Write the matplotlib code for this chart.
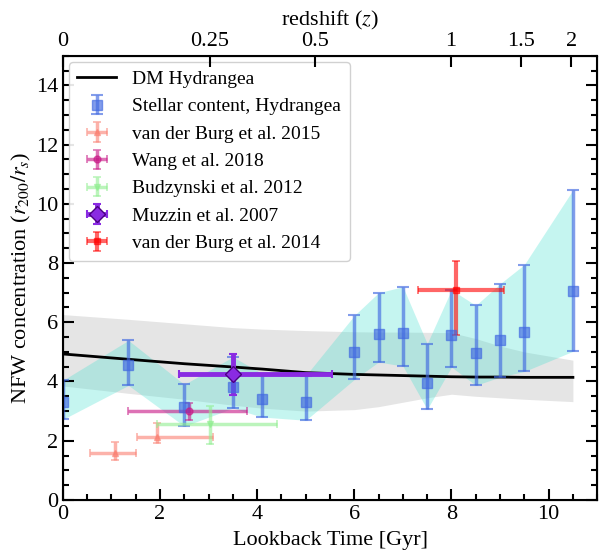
import matplotlib
matplotlib.use("Agg")
import matplotlib.pyplot as plt
import numpy as np

plt.rcParams["font.family"] = ["Liberation Serif", "DejaVu Serif"]
plt.rcParams["mathtext.fontset"] = "stix"

# DM Hydrangea median and scatter
dm_t = [0, 1.35, 2.5, 3.5, 4.1, 5.0, 6.0, 6.5, 7.0, 7.5, 8.0, 8.5, 9.0, 9.5, 10.5]
dm_c = [4.93, 4.75, 4.6, 4.49, 4.42, 4.3, 4.24, 4.22, 4.2, 4.18, 4.16, 4.15, 4.15, 4.14, 4.14]
dm_hi = [6.26, 6.1, 5.95, 5.82, 5.77, 5.72, 5.68, 5.67, 5.67, 5.66, 5.65, 5.45, 5.2, 5.0, 4.72]
dm_lo = [3.85, 3.6, 3.4, 3.2, 3.1, 3.0, 3.05, 3.15, 3.3, 3.45, 3.57, 3.5, 3.45, 3.4, 3.32]

# stellar content, Hydrangea
st_t = [0, 1.35, 2.5, 3.5, 4.1, 5.0, 6.0, 6.5, 7.0, 7.5, 8.0, 8.5, 9.0, 9.5, 10.5]
st_c = [3.3, 4.55, 3.14, 3.82, 3.4, 3.31, 5.0, 5.61, 5.65, 3.96, 5.56, 4.96, 5.39, 5.67, 7.07]
st_top = [4.04, 5.39, 3.9, 4.83, 4.27, 4.2, 6.23, 7.0, 7.2, 5.28, 7.1, 6.57, 7.3, 7.95, 10.47]
st_bot = [2.72, 3.87, 2.49, 3.1, 2.8, 2.69, 4.07, 4.66, 4.52, 3.06, 4.49, 3.87, 4.15, 4.34, 5.02]

# observations: centre, x range and y range
vdb15_t = [1.07, 1.93]
vdb15_c = [1.58, 2.12]
vdb15_tlo = [0.56, 1.52]
vdb15_thi = [1.5, 3.1]
vdb15_clo = [1.35, 1.92]
vdb15_chi = [1.96, 2.59]

wang_t, wang_c = [2.6], [3.01]
wang_tlo, wang_thi = [1.34], [3.79]
wang_clo, wang_chi = [2.69], [3.28]

budz_t, budz_c = [3.02], [2.58]
budz_tlo, budz_thi = [1.93], [4.4]
budz_clo, budz_chi = [1.89], [3.17]

muz_t, muz_c = [3.5], [4.24]
muz_tlo, muz_thi = [2.39], [5.54]
muz_clo, muz_chi = [3.54], [4.94]

vdb14_t, vdb14_c = [8.09], [7.09]
vdb14_tlo, vdb14_thi = [7.32], [9.08]
vdb14_clo, vdb14_chi = [5.58], [8.08]

z_ticks = ["0", "0.25", "0.5", "1", "1.5", "2"]
z_tpos = [0, 3.02, 5.2, 7.98, 9.44, 10.47]


def errs(v, lo, hi):
    v = np.array(v)
    return [v - np.array(lo), np.array(hi) - v]


fig = plt.figure(figsize=(5.99, 5.53), dpi=100)
ax = fig.add_axes([0.105, 0.096, 0.892, 0.803])

ax.fill_between(dm_t, dm_lo, dm_hi, color="0.75", alpha=0.4, lw=0)
ax.fill_between(st_t, st_bot, st_top, color="turquoise", alpha=0.3, lw=0)
ax.plot(dm_t, dm_c, color="k", lw=2, label="DM Hydrangea")

ax.errorbar(st_t, st_c, yerr=errs(st_c, st_bot, st_top), fmt="s", color="royalblue",
            alpha=0.65, ms=7, elinewidth=2.5, capsize=4, capthick=1.5,
            label="Stellar content, Hydrangea")
ax.errorbar(vdb15_t, vdb15_c, xerr=errs(vdb15_t, vdb15_tlo, vdb15_thi),
            yerr=errs(vdb15_c, vdb15_clo, vdb15_chi), fmt="^", color="salmon",
            alpha=0.6, ms=5, elinewidth=2.5, capsize=3, capthick=1.2,
            label="van der Burg et al. 2015")
ax.errorbar(wang_t, wang_c, xerr=errs(wang_t, wang_tlo, wang_thi),
            yerr=errs(wang_c, wang_clo, wang_chi), fmt="o", color="mediumvioletred",
            alpha=0.6, ms=5, elinewidth=2.5, capsize=3, capthick=1.2,
            label="Wang et al. 2018")
ax.errorbar(budz_t, budz_c, xerr=errs(budz_t, budz_tlo, budz_thi),
            yerr=errs(budz_c, budz_clo, budz_chi), fmt="v", color="lightgreen",
            alpha=0.6, ms=5, elinewidth=2.5, capsize=3, capthick=1.2,
            label="Budzynski et al. 2012")
ax.errorbar(muz_t, muz_c, xerr=errs(muz_t, muz_tlo, muz_thi),
            yerr=errs(muz_c, muz_clo, muz_chi), fmt="D", color="blueviolet",
            mec="indigo", ms=8, elinewidth=3.5, capsize=3, capthick=1.5,
            label="Muzzin et al. 2007")
ax.errorbar(vdb14_t, vdb14_c, xerr=errs(vdb14_t, vdb14_tlo, vdb14_thi),
            yerr=errs(vdb14_c, vdb14_clo, vdb14_chi), fmt="s", color="red",
            alpha=0.6, ms=5, elinewidth=3, capsize=3, capthick=1.2,
            label="van der Burg et al. 2014")

ax.set_xlim(0, 11)
ax.set_ylim(0, 15)
ax.set_xticks([0, 2, 4, 6, 8, 10])
ax.set_yticks(range(0, 15, 2))
ax.set_xticks(np.arange(0, 11.01, 0.5), minor=True)
ax.set_yticks(np.arange(0, 15.01, 0.5), minor=True)
ax.tick_params(which="both", direction="in", right=True, labelsize=16, width=1.5)
ax.tick_params(which="major", length=8)
ax.tick_params(which="minor", length=4)
for s in ax.spines.values():
    s.set_linewidth(1.5)
ax.set_xlabel("Lookback Time [Gyr]", fontsize=16, labelpad=5)
ax.set_ylabel("NFW concentration ($r_{200}/r_s$)", fontsize=16, labelpad=2)

ax2 = ax.twiny()
ax2.set_xlim(ax.get_xlim())
ax2.set_xticks(z_tpos)
ax2.set_xticklabels(z_ticks)
ax2.tick_params(direction="in", length=8, width=1.5, labelsize=16)
ax2.set_xlabel("redshift ($z$)", fontsize=16, labelpad=5)

ax.legend(loc="upper left", fontsize=14, framealpha=0.9, handlelength=2.0,
          handletextpad=0.8, borderpad=0.45, labelspacing=0.5, borderaxespad=0.3)

fig.savefig("out.png", dpi=100)
